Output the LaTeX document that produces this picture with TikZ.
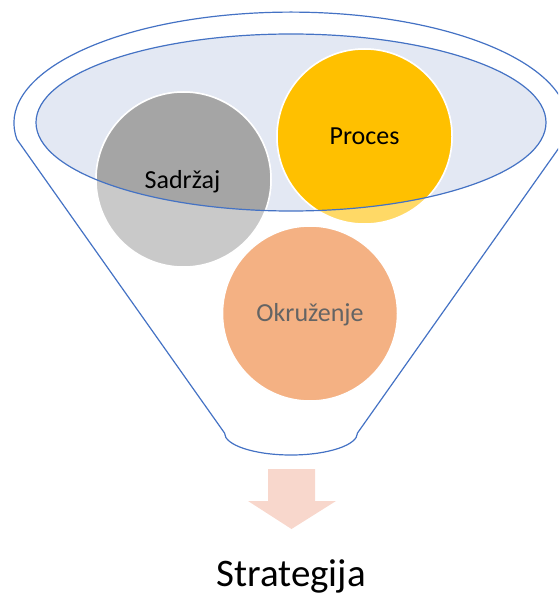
\documentclass[tikz,border=0pt]{standalone}
\usepackage{fontspec}
\setmainfont{Carlito}
\definecolor{ellfill}{RGB}{227,232,243}
\definecolor{edgeblue}{RGB}{68,114,196}
\definecolor{graydark}{RGB}{165,165,165}
\definecolor{graylight}{RGB}{201,201,201}
\definecolor{golddark}{RGB}{255,192,0}
\definecolor{goldlight}{RGB}{255,217,102}
\definecolor{peach}{RGB}{244,177,131}
\definecolor{arrowpink}{RGB}{248,215,204}
\definecolor{labelgray}{RGB}{100,100,100}
\tikzset{
  bubble/.style={circle, minimum size=175pt, inner sep=0pt, draw=white, line width=1.5pt},
  bubbletext/.style={font=\fontsize{26}{30}\selectfont, inner sep=0pt, anchor=base},
  funnelline/.style={draw=edgeblue, line width=1.2pt},
}
\begin{document}
\begin{tikzpicture}[x=1pt,y=-1pt]
\useasboundingbox (0,0) rectangle (558,596);
\clip (0,0) rectangle (558,596);
% outer funnel
\draw[funnelline, line join=round]
  (17,139.5) arc[start angle=188.5, end angle=-8.5, x radius=277pt, y radius=111pt]
  -- (357.5,433) arc[start angle=0, end angle=-180, x radius=66.5pt, y radius=22pt]
  -- cycle;
% inner ellipse fill
\fill[ellfill] (291,122.5) ellipse [x radius=255pt, y radius=88.5pt];
% circles (light parts)
\node[bubble, fill=graylight] (sad) at (183.5,179.5) {};
\node[bubble, fill=goldlight] (proc) at (364.5,136.5) {};
\node[bubble, fill=peach] (okr) at (310,313.5) {};
% darker parts inside the ellipse
\begin{scope}
  \clip (291,122.5) ellipse [x radius=255pt, y radius=88.5pt];
  \fill[graydark] (sad) circle[radius=87.5pt];
  \fill[golddark] (proc) circle[radius=87.5pt];
  \draw[white, line width=1.5pt] (sad) circle[radius=87.5pt];
  \draw[white, line width=1.5pt] (proc) circle[radius=87.5pt];
\end{scope}
% inner ellipse outline
\draw[funnelline] (291,122.5) ellipse [x radius=255pt, y radius=88.5pt];
% labels
\node[bubbletext] (sadt) at (182.5,188) {Sadržaj};
\node[bubbletext] (proct) at (364.5,145) {Proces};
\node[bubbletext, text=labelgray] (okrt) at (310,321) {Okruženje};
% arrow
\fill[arrowpink] (268,469) -- (315,469) -- (315,501) -- (336,501) -- (291.5,529)
  -- (248,501) -- (268,501) -- cycle;
% result
\node[font=\fontsize{39}{45}\selectfont, inner sep=0pt, anchor=base] (strat) at (291,586.5) {Strategija};
\end{tikzpicture}
\end{document}
